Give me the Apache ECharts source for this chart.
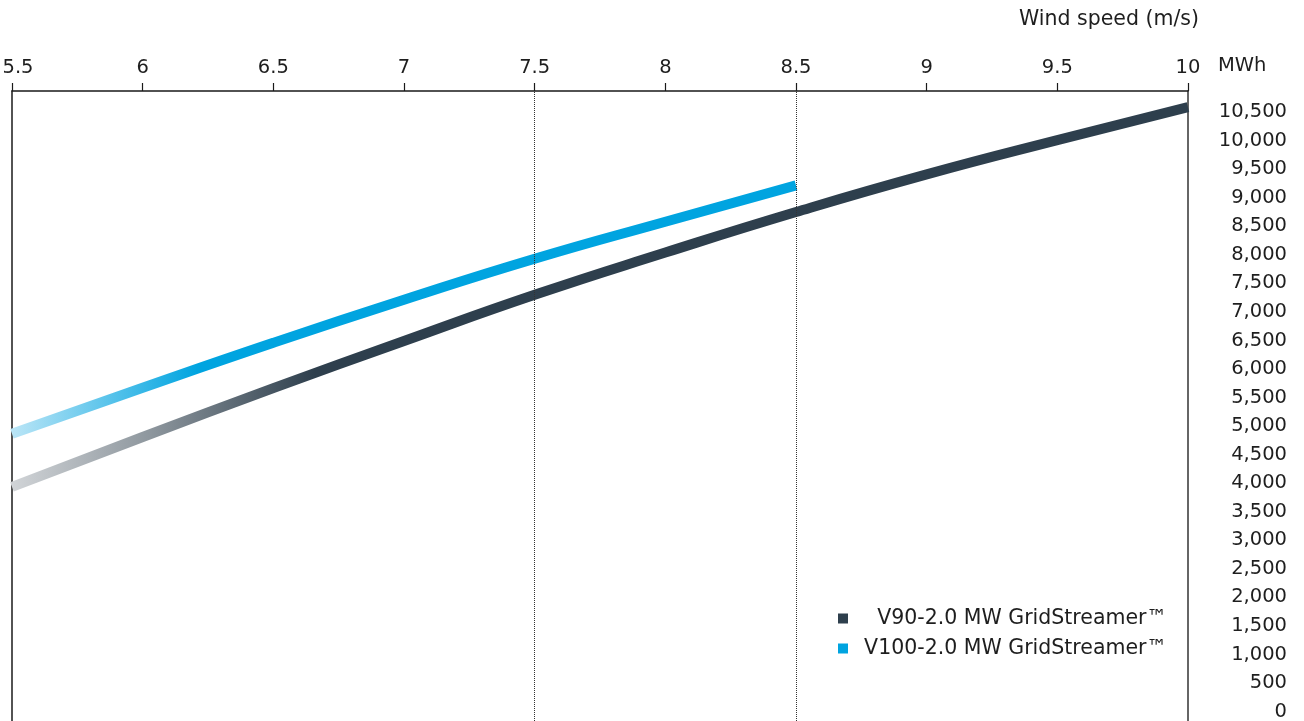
<!DOCTYPE html>
<html>
<head>
<meta charset="utf-8">
<script src="https://cdn.jsdelivr.net/npm/echarts@6/dist/echarts.min.js"></script>
<style>
html,body{margin:0;padding:0;background:#fff;}
#chart{width:1304px;height:721px;}
</style>
</head>
<body>
<div id="chart"></div>
<script>
// ---- data ----
const windV90 = [5.5, 6, 6.5, 7, 7.5, 8, 8.5, 9, 9.5, 10];
const mwhV90 = [3937, 4810, 5665, 6490, 7300, 8040, 8750, 9410, 10010, 10586];
const windV100 = [5.5, 6, 6.5, 7, 7.5, 8, 8.5];
const mwhV100 = [4865, 5672, 6460, 7213, 7931, 8580, 9216];
const seriesNames = ['V90-2.0 MW GridStreamer™', 'V100-2.0 MW GridStreamer™'];
const yTickValues = [0,500,1000,1500,2000,2500,3000,3500,4000,4500,5000,5500,6000,6500,7000,7500,8000,8500,9000,9500,10000,10500];
const refLinesX = [7.5, 8.5];

const FONT = '"DejaVu Sans", sans-serif';
const TXT = '#1e1e1e';
const DARK = '#2e3f4d';
const BLUE = '#00a4e0';

const chart = echarts.init(document.getElementById('chart'));
chart.setOption({
  backgroundColor: '#fff',
  animation: false,
  textStyle: { fontFamily: FONT },
  title: [
    { text: 'Wind speed (m/s)', right: 105, top: 9, padding: 0,
      textStyle: { fontFamily: FONT, fontSize: 20.5, fontWeight: 'normal', color: TXT } },
    { text: 'MWh', left: 1218, top: 56, padding: 0,
      textStyle: { fontFamily: FONT, fontSize: 19.5, fontWeight: 'normal', color: TXT } }
  ],
  grid: { left: 12, right: 116, top: 91, bottom: 0, outerBoundsMode: 'none', containLabel: false },
  legend: {
    orient: 'vertical',
    left: 833, top: 603,
    itemWidth: 10, itemHeight: 10, itemGap: 9,
    icon: 'rect',
    selectedMode: false,
    data: [
      { name: seriesNames[0], itemStyle: { color: DARK } },
      { name: seriesNames[1], itemStyle: { color: BLUE } }
    ],
    formatter: n => '{t|' + n + '}',
    textStyle: {
      fontFamily: FONT, fontSize: 20.5, color: TXT,
      rich: { t: { width: 314, align: 'right', fontFamily: FONT, fontSize: 20.5, color: TXT } }
    }
  },
  xAxis: {
    type: 'value', position: 'top',
    min: 5.5, max: 10, interval: 0.5,
    axisLine: { show: true, onZero: false, lineStyle: { color: '#1a1a1a', width: 1.5 } },
    axisTick: { show: true, length: 8, lineStyle: { color: '#1a1a1a', width: 1.2 } },
    axisLabel: {
      margin: 13, fontFamily: FONT, fontSize: 19.5, color: TXT,
      formatter: v => (v === 5.5 ? '{m|' + v + '}' : String(v)),
      rich: { m: { padding: [0, 0, 0, 12], fontFamily: FONT, fontSize: 19.5, color: TXT } }
    },
    splitLine: { show: false }
  },
  yAxis: [
    {
      type: 'value', position: 'right',
      min: -165, max: 10870,
      axisLine: { show: true, onZero: false, lineStyle: { color: '#333', width: 1.5 } },
      axisTick: { show: false },
      splitLine: { show: false },
      axisLabel: {
        customValues: yTickValues,
        align: 'right', margin: 99,
        fontFamily: FONT, fontSize: 19.5, color: TXT,
        formatter: v => v.toLocaleString('en-US')
      }
    },
    {
      type: 'value', position: 'left',
      min: -165, max: 10870,
      axisLine: { show: true, onZero: false, lineStyle: { color: '#1a1a1a', width: 1.5 } },
      axisTick: { show: false },
      splitLine: { show: false },
      axisLabel: { show: false }
    }
  ],
  series: [
    {
      name: seriesNames[0], type: 'line', smooth: true, showSymbol: false, symbol: 'none',
      yAxisIndex: 0,
      data: windV90.map((x, i) => [x, mwhV90[i]]),
      itemStyle: { color: DARK },
      lineStyle: {
        width: 10,
        color: new echarts.graphic.LinearGradient(0, 0, 1, 0, [
          { offset: 0, color: '#d3d6d9' },
          { offset: 0.12, color: '#8e979e' },
          { offset: 0.26, color: DARK },
          { offset: 1, color: DARK }
        ])
      },
      markLine: {
        silent: true, symbol: 'none',
        label: { show: false },
        lineStyle: { color: '#333', type: 'dotted', width: 1 },
        data: refLinesX.map(x => ({ xAxis: x }))
      },
      z: 3
    },
    {
      name: seriesNames[1], type: 'line', smooth: true, showSymbol: false, symbol: 'none',
      yAxisIndex: 0,
      data: windV100.map((x, i) => [x, mwhV100[i]]),
      itemStyle: { color: BLUE },
      lineStyle: {
        width: 10,
        color: new echarts.graphic.LinearGradient(0, 0, 1, 0, [
          { offset: 0, color: '#bfe7f7' },
          { offset: 0.24, color: BLUE },
          { offset: 1, color: BLUE }
        ])
      },
      z: 4
    }
  ]
});
</script>
</body>
</html>
